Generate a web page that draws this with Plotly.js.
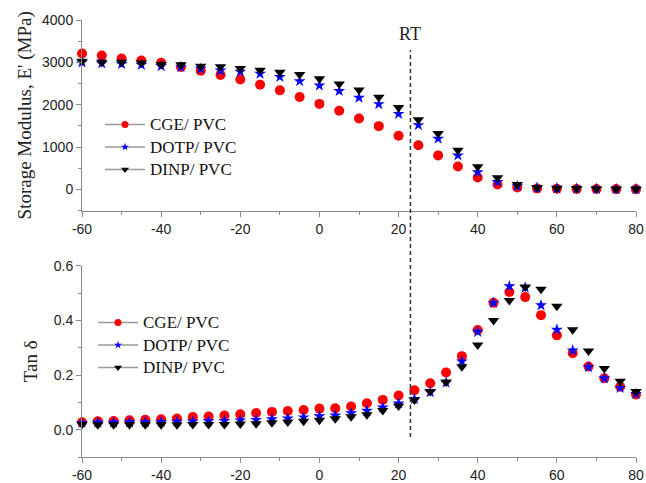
<!DOCTYPE html>
<html>
<head>
<meta charset="utf-8">
<script src="https://cdn.plot.ly/plotly-3.0.1.min.js"></script>
<style>html,body{margin:0;padding:0;background:#fff;}#chart{width:646px;height:483px;}</style>
</head>
<body>
<div id="chart"></div>
<script>
// ---- Data ----
const seriesNames = ["CGE/ PVC", "DOTP/ PVC", "DINP/ PVC"];

// Storage modulus E' (MPa) vs temperature (°C), 5 °C steps
const tempModulus = [-60,-55,-50,-45,-40,-35,-30,-25,-20,-15,-10,-5,0,5,10,15,20,25,30,35,40,45,50,55,60,65,70,75,80];
const cgeModulus  = [3210,3160,3090,3045,2990,2890,2805,2705,2595,2475,2340,2185,2020,1860,1675,1495,1270,1045,805,545,285,120,50,25,18,15,12,10,8];
const dotpModulus = [3000,2975,2962,2942,2912,2888,2848,2808,2780,2732,2657,2556,2455,2325,2165,2015,1785,1520,1200,805,410,180,80,40,28,20,15,12,10];
const dinpModulus = [3028,3004,3002,2988,2950,2942,2910,2894,2855,2815,2767,2712,2612,2490,2350,2175,1935,1645,1320,925,535,275,120,50,30,22,18,15,12];

// Tan delta vs temperature (°C), 4 °C steps
const tempTan = [-60,-56,-52,-48,-44,-40,-36,-32,-28,-24,-20,-16,-12,-8,-4,0,4,8,12,16,20,24,28,32,36,40,44,48,52,56,60,64,68,72,76,80];
const cgeTan  = [0.027,0.031,0.032,0.034,0.036,0.038,0.041,0.046,0.048,0.052,0.056,0.061,0.065,0.068,0.072,0.077,0.078,0.085,0.097,0.109,0.125,0.144,0.170,0.209,0.269,0.365,0.464,0.504,0.485,0.419,0.345,0.280,0.231,0.188,0.157,0.129];
const dotpTan = [0.025,0.026,0.026,0.027,0.027,0.028,0.029,0.030,0.031,0.032,0.034,0.036,0.038,0.041,0.045,0.049,0.052,0.060,0.069,0.081,0.096,0.112,0.137,0.172,0.250,0.358,0.464,0.525,0.520,0.455,0.366,0.290,0.229,0.188,0.153,0.131];
const dinpTan = [0.020,0.018,0.018,0.018,0.018,0.018,0.018,0.019,0.019,0.019,0.021,0.022,0.025,0.028,0.031,0.034,0.040,0.047,0.055,0.070,0.087,0.109,0.140,0.174,0.230,0.310,0.399,0.473,0.522,0.514,0.452,0.366,0.288,0.224,0.177,0.140];

const roomTemp = 23;
const roomTempLabel = "RT";
const xTickVals = [-60,-40,-20,0,20,40,60,80];
const xTickText = ["-60","-40","-20","0","20","40","60","80"];
const yTickValsTop = [0,1000,2000,3000,4000];
const yTickTextTop = ["0","1000","2000","3000","4000"];
const yTickValsBottom = [0,0.2,0.4,0.6];
const yTickTextBottom = ["0.0","0.2","0.4","0.6"];
const yTitleTop = "Storage Modulus, E' (MPa)";
const yTitleBottom = "Tan δ";

// ---- Styles ----
const colors = ["#ff0000", "#0000ff", "#000000"];
const symbols = ["circle", "star", "triangle-down"];
const plotSizes = [10, 9, 10];
const legendSizes = [7, 6, 7];
const serif = "Liberation Serif, Times New Roman, serif";
const sans = "Liberation Sans, Arial, sans-serif";

const modulusSeries = [cgeModulus, dotpModulus, dinpModulus];
const tanSeries = [cgeTan, dotpTan, dinpTan];

const traces = [];
modulusSeries.forEach((ys, i) => {
  traces.push({x: tempModulus, y: ys, xaxis: "x", yaxis: "y", mode: "markers", type: "scatter",
    name: seriesNames[i], showlegend: false, cliponaxis: false,
    marker: {color: colors[i], symbol: symbols[i], size: plotSizes[i], line: {width: 0}}});
});
tanSeries.forEach((ys, i) => {
  traces.push({x: tempTan, y: ys, xaxis: "x2", yaxis: "y2", mode: "markers", type: "scatter",
    name: seriesNames[i], showlegend: false, cliponaxis: false,
    marker: {color: colors[i], symbol: symbols[i], size: plotSizes[i], line: {width: 0}}});
});
// legend entries (line + marker like the original)
["legend", "legend2"].forEach((lg, k) => {
  seriesNames.forEach((nm, i) => {
    traces.push({x: [null], y: [null], xaxis: k ? "x2" : "x", yaxis: k ? "y2" : "y",
      mode: "lines+markers", type: "scatter",
      name: '<span style="font-size:17px">' + nm + '</span>', legend: lg, showlegend: true,
      line: {color: "#9a9a9a", width: 1.5},
      marker: {color: colors[i], symbol: symbols[i], size: legendSizes[i], line: {width: 0}}});
  });
});

const axisCommon = {
  showline: true, linecolor: "#8a8a8a", linewidth: 1,
  ticks: "outside", ticklen: 5, tickcolor: "#8a8a8a", tickwidth: 1,
  showgrid: false, zeroline: false,
  tickfont: {family: sans, size: 14, color: "#222"}
};

const xCommon = Object.assign({}, axisCommon, {
  range: [-60, 80], tickmode: "array", tickvals: xTickVals, ticktext: xTickText,
  minor: {dtick: 10, tick0: 0, ticks: "outside", ticklen: 3, tickcolor: "#8a8a8a", showgrid: false}
});

const layout = {
  width: 646, height: 483,
  margin: {l: 82, r: 10, t: 20, b: 26},
  paper_bgcolor: "#fff", plot_bgcolor: "#fff",
  showlegend: true,
  xaxis: Object.assign({}, xCommon, {anchor: "y", domain: [0, 1]}),
  xaxis2: Object.assign({}, xCommon, {anchor: "y2", domain: [0, 1]}),
  yaxis: Object.assign({}, axisCommon, {
    anchor: "x", domain: [0.5636, 1], range: [-500, 4000], tickmode: "array",
    tickvals: yTickValsTop, ticktext: yTickTextTop,
    minor: {dtick: 500, tick0: 0, ticks: "outside", ticklen: 3, tickcolor: "#8a8a8a", showgrid: false},
    title: {text: yTitleTop, font: {family: serif, size: 19, color: "#222"}, standoff: 5}
  }),
  yaxis2: Object.assign({}, axisCommon, {
    anchor: "x2", domain: [0, 0.4378], range: [-0.1, 0.6], tickmode: "array",
    tickvals: yTickValsBottom, ticktext: yTickTextBottom,
    minor: {dtick: 0.1, tick0: 0, ticks: "outside", ticklen: 3, tickcolor: "#8a8a8a", showgrid: false},
    title: {text: yTitleBottom, font: {family: serif, size: 19, color: "#222"}, standoff: 11}
  }),
  legend: {x: 0.0325, xanchor: "left", y: 0.798, yanchor: "top", itemwidth: 40,
    bgcolor: "rgba(0,0,0,0)", font: {family: serif, size: 15, color: "#111"}, tracegroupgap: 0},
  legend2: {x: 0.0199, xanchor: "left", y: 0.345, yanchor: "top", itemwidth: 40,
    bgcolor: "rgba(0,0,0,0)", font: {family: serif, size: 15, color: "#111"}, tracegroupgap: 0},
  shapes: [{type: "line", xref: "x", yref: "paper", x0: roomTemp, x1: roomTemp,
    y0: 0.0458, y1: 0.931, line: {color: "#333", width: 1.5, dash: "4px,3px"}}],
  annotations: [{xref: "x", yref: "paper", x: roomTemp, y: 0.968, xanchor: "center", yanchor: "middle",
    text: roomTempLabel, showarrow: false, font: {family: serif, size: 18, color: "#222"}}]
};

Plotly.newPlot("chart", traces, layout, {displayModeBar: false, staticPlot: true});
</script>
</body>
</html>
